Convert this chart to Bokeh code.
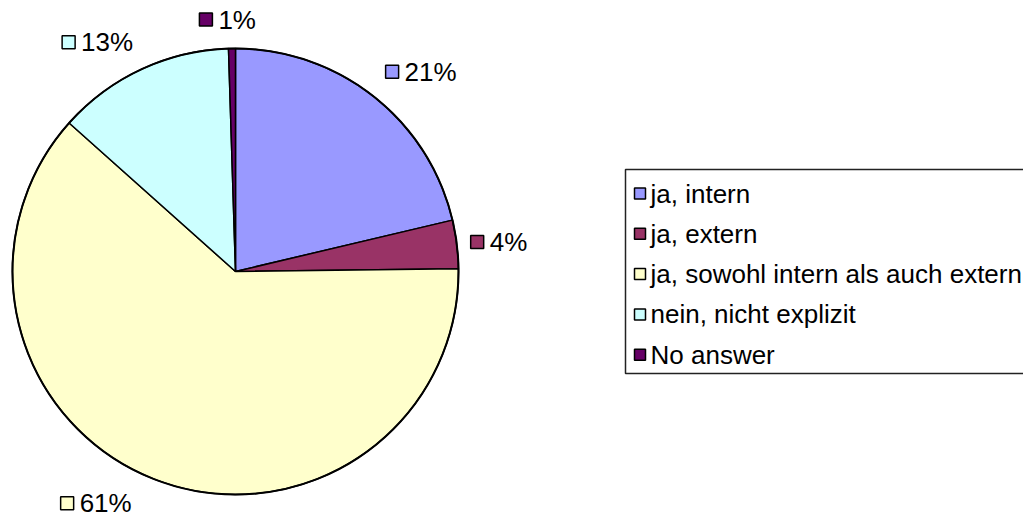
import math
from bokeh.plotting import figure
from bokeh.models import Range1d, ColumnDataSource
from bokeh.core.properties import value
from bokeh.embed import file_html
from bokeh.resources import INLINE

# ---- data ----
categories = ["ja, intern", "ja, extern", "ja, sowohl intern als auch extern",
              "nein, nicht explizit", "No answer"]
shares = [21.3, 3.5, 61.8, 12.9, 0.5]
share_labels = ["21%", "4%", "61%", "13%", "1%"]
colors = ["#9999FF", "#993366", "#FFFFCC", "#CCFFFF", "#660066"]

# ---- layout (page pixels -> figure coords) ----
W, H = 1023, 519
def fx(ix):
    return ix
def fy(iy):
    return H - iy

CX, CY, R = fx(235), fy(271), 223
FONT = "Liberation Sans"
LABEL_FS = 26
LEG_FS = 26

p = figure(width=W, height=H, output_backend="svg", toolbar_location=None,
           x_range=Range1d(0, W), y_range=Range1d(0, H),
           x_axis_location=None, y_axis_location=None, min_border=0)
p.grid.visible = False
p.outline_line_color = None
p.background_fill_color = "white"
p.border_fill_color = "white"

total = sum(shares)
starts, ends, mids = [], [], []
acc = 0.0
for v in shares:
    a0 = math.pi / 2 - 2 * math.pi * acc / total
    acc += v
    a1 = math.pi / 2 - 2 * math.pi * acc / total
    starts.append(a0)
    ends.append(a1)
    mids.append((a0 + a1) / 2)

src = ColumnDataSource(dict(start=starts, end=ends, color=colors, cat=categories))
p.wedge(x=CX, y=CY, radius=R, start_angle="start", end_angle="end",
        direction="clock", fill_color="color", line_color="black",
        line_width=1.5, source=src)
p.circle(x=CX, y=CY, radius=R, fill_color=None, line_color="black", line_width=2)

# ---- percentage labels around the pie ----
CW = {"0": .556, "1": .556, "2": .556, "3": .556, "4": .556, "5": .556,
      "6": .556, "7": .556, "8": .556, "9": .556, "%": .889}
SQ, GAP, BOXH = 13, 6, 20
RL = R + 19
nudges = [(0, 0), (-5, 0), (-19, 5), (0, 0), (-4, 0)]
sq_x, sq_y, tx, ty, tt, sq_c = [], [], [], [], [], []
for i, th in enumerate(mids):
    lab = share_labels[i]
    tw = sum(CW[c] for c in lab) * LABEL_FS
    w = SQ + GAP + tw
    px = CX + RL * math.cos(th)
    py = CY + RL * math.sin(th)
    c, s = math.cos(th), math.sin(th)
    if c > 0.25:
        left = px
    elif c < -0.25:
        left = px - w
    else:
        left = px - w / 2
    if s > 0.25:
        mid_y = py + BOXH / 2
    elif s < -0.25:
        mid_y = py - BOXH / 2
    else:
        mid_y = py
    left += nudges[i][0]
    mid_y += nudges[i][1]
    sq_x.append(left + SQ / 2)
    sq_y.append(mid_y)
    sq_c.append(colors[i])
    tx.append(left + SQ + GAP)
    ty.append(mid_y)
    tt.append(lab)

p.rect(x=sq_x, y=sq_y, width=SQ, height=SQ, fill_color=sq_c,
       line_color="black", line_width=1.5)
p.text(x=tx, y=ty, text=tt, text_font=value(FONT), text_font_size=f"{LABEL_FS}px",
       text_align="left", text_baseline="middle", text_color="black")

# ---- legend ----
LEFT, TOP, BOT = fx(625), fy(169), fy(373)
p.quad(left=LEFT, right=W + 20, top=TOP, bottom=BOT, fill_color=None,
       line_color="#222222", line_width=1.5)
row0, step = fy(193), 40.3
lsq = 11
lx, ly, lc = [], [], []
for i, cat in enumerate(categories):
    lx.append(fx(639.5))
    ly.append(row0 - i * step)
    lc.append(colors[i])
p.rect(x=lx, y=ly, width=lsq, height=lsq, fill_color=lc, line_color="black",
       line_width=1.5)
p.text(x=[fx(650)] * len(categories), y=ly, text=categories, text_font=value(FONT),
       text_font_size=f"{LEG_FS}px", text_align="left", text_baseline="middle",
       text_color="black")

open("out.html", "w").write(file_html(p, INLINE))
